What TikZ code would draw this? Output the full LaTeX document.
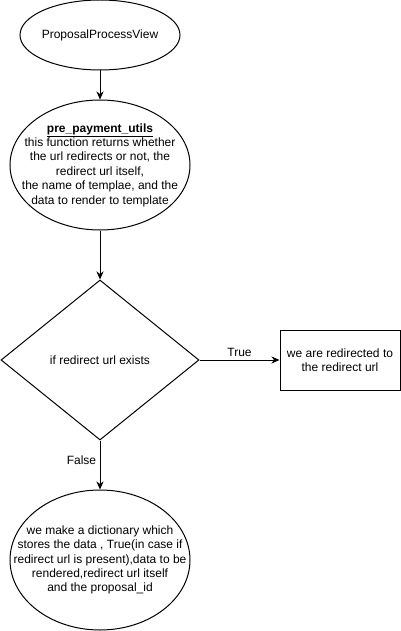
\documentclass[tikz,border=0pt]{standalone}
\usepackage{fontspec}
\setmainfont{Liberation Sans}
\usetikzlibrary{shapes.geometric,arrows.meta}

\begin{document}
\begin{tikzpicture}[x=1pt,y=-1pt,line width=1pt,
		>={Stealth[length=8pt,width=7pt,inset=2.5pt]},
		every node/.style={font=\fontsize{12}{14.4}\selectfont},
		bubble/.style={draw,ellipse,inner sep=0pt},
		choice/.style={draw,diamond,inner sep=0pt,minimum width=198pt,minimum height=160pt},
		plainbox/.style={draw,rectangle,minimum width=120pt,minimum height=60pt,align=center}]
		\useasboundingbox (0,0) rectangle (401,631);
		% nodes
		\node[bubble,minimum width=160pt,minimum height=70pt,
			label=center:ProposalProcessView] (view) at (100,35) {};
		\node[bubble,minimum width=180pt,minimum height=130pt,
			label={[align=center]center:{\underline{\textbf{pre\_payment\_utils}}\\this function returns whether\\the url redirects or not, the\\redirect url itself,\\the name of templae, and the\\data to render to template}}] (utils) at (100,165) {};
		\node[choice] (check) at (100,360) {if redirect url exists};
		\node[plainbox] (redir) at (340,360) {we are redirected to\\the redirect url};
		\node[bubble,minimum width=180pt,minimum height=140pt,
			label={[align=center]center:{we make a dictionary which\\stores the data , True(in case if\\redirect url is present),data to be\\rendered,redirect url itself\\and the proposal\_id}}] (dict) at (100,560) {};
		% arrows
		\draw[->] (view) -- (utils);
		\draw[->] (utils) -- (check);
		\draw[->] (check) -- node[above] {True} (redir);
		\draw[->] (check) -- node[left,pos=0.4] {False} (dict);
\end{tikzpicture}
\end{document}
